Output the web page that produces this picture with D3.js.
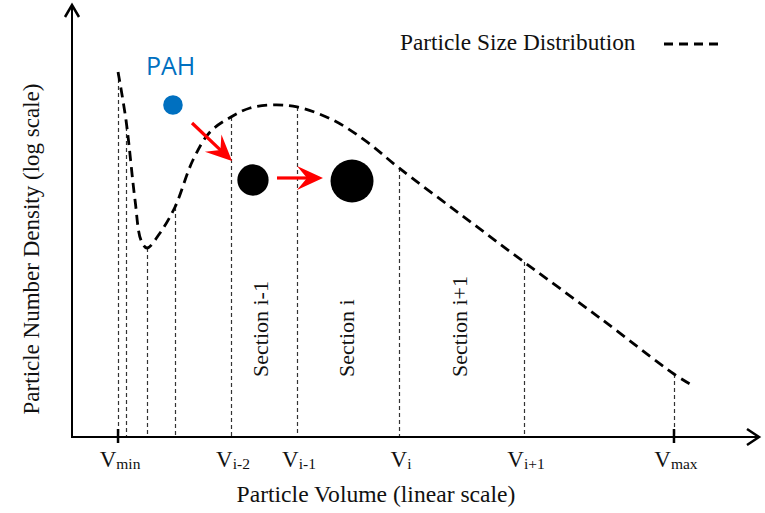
<!DOCTYPE html>
<html>
<head>
<meta charset="utf-8">
<script src="https://cdn.jsdelivr.net/npm/d3@7"></script>
<style>
  html, body { margin: 0; padding: 0; background: #fff; }
  svg { display: block; }
  text { font-family: "Liberation Serif", "Times New Roman", serif; fill: #111; }
</style>
</head>
<body>
<svg id="chart" width="765" height="513"></svg>
<script>
// particle size distribution (volume in arbitrary linear units, density on a log scale)
const curveVolumes = [6.72, 7.88, 9.2, 10.07, 10.95, 12.85, 15.04, 17.66, 20.15, 23.21, 25.99, 29.2, 32.85, 38.1, 43.07, 47.74, 56.64, 65.99, 77.08, 87.88, 90.22];
const curveDensities = [16800, 4670, 553, 190, 154, 230, 459, 1607, 3390, 5060, 6430, 6960, 6600, 4670, 2600, 1300, 381, 106, 23.8, 5.36, 4.11];

// section boundaries on the volume axis
const boundaryVolumes = [6.72, 7.88, 10.95, 15.04, 23.21, 32.85, 47.74, 65.99, 87.88];
const boundarySubs = ["min", "", "", "", "i-2", "i-1", "i", "i+1", "max"];
const tickedBoundaries = ["min", "max"];

// sections labelled between boundaries
const sectionNames = ["Section i-1", "Section i", "Section i+1"];
const sectionVolumes = [27.4, 40.0, 56.5];

// particles: PAH, then two soot particles
const particleNames = ["PAH", "", ""];
const particleVolumes = [14.74, 26.42, 40.88];
const particleDensities = [6960, 943, 918];
const particleDiameters = [1, 1.6, 2.2];

// growth arrows [from, to] as (volume, density)
const arrowStarts = [[17.52, 4306], [29.93, 995]];
const arrowEnds = [[23.36, 1565], [36.64, 995]];

const svg = d3.select("#chart");
const xScale = d3.scaleLinear().domain([0, 100]).range([72, 757]);
const yScale = d3.scaleLog().domain([1, 1e5]).range([437, 5]);
const rScale = d3.scaleLinear().domain([0, 2.2]).range([0, 21.5]);

const densityAt = (v) => {
  const i = d3.bisectLeft(curveVolumes, v);
  if (curveVolumes[i] === v) return curveDensities[i];
  const t = (v - curveVolumes[i - 1]) / (curveVolumes[i] - curveVolumes[i - 1]);
  return Math.pow(10, d3.interpolateNumber(Math.log10(curveDensities[i - 1]), Math.log10(curveDensities[i]))(t));
};

// boundary lines
svg
  .append("g")
  .selectAll("line")
  .data(boundaryVolumes)
  .enter()
  .append("line")
  .attr("x1", (d) => Math.round(xScale(d)) + 0.5)
  .attr("x2", (d) => Math.round(xScale(d)) + 0.5)
  .attr("y1", (d) => yScale(densityAt(d)))
  .attr("y2", yScale(1))
  .attr("stroke", "#333")
  .attr("stroke-width", 1.2)
  .attr("stroke-dasharray", "4,3");

// distribution curve
const line = d3
  .line()
  .x((d, i) => xScale(curveVolumes[i]))
  .y((d) => yScale(d))
  .curve(d3.curveCatmullRom.alpha(0.5));

svg
  .append("path")
  .attr("d", line(curveDensities))
  .attr("fill", "none")
  .attr("stroke", "#000")
  .attr("stroke-width", 2.8)
  .attr("stroke-dasharray", "10,6");

// axes
const x0 = xScale(0), y0 = yScale(1);
svg.append("line")
  .attr("x1", x0).attr("y1", y0 + 1).attr("x2", x0).attr("y2", 6)
  .attr("stroke", "#000").attr("stroke-width", 2);
svg.append("line")
  .attr("x1", x0 - 1).attr("y1", y0).attr("x2", 758).attr("y2", y0)
  .attr("stroke", "#000").attr("stroke-width", 2);
svg.append("path")
  .attr("d", `M${x0 - 7},17 L${x0},5 L${x0 + 7},17`)
  .attr("fill", "none").attr("stroke", "#000").attr("stroke-width", 2.5);
svg.append("path")
  .attr("d", `M747,${y0 - 8} L759,${y0} L747,${y0 + 8}`)
  .attr("fill", "none").attr("stroke", "#000").attr("stroke-width", 2.5);

// ticks at Vmin and Vmax
svg
  .append("g")
  .selectAll("line")
  .data(boundaryVolumes.filter((d, i) => tickedBoundaries.includes(boundarySubs[i])))
  .enter()
  .append("line")
  .attr("x1", (d) => xScale(d))
  .attr("x2", (d) => xScale(d))
  .attr("y1", y0 - 8)
  .attr("y2", y0 + 6)
  .attr("stroke", "#000")
  .attr("stroke-width", 2.5);

// tick labels V_sub
const labels = svg
  .append("g")
  .selectAll("text")
  .data(boundaryVolumes.filter((d, i) => boundarySubs[i] !== ""))
  .enter()
  .append("text")
  .attr("x", (d) => xScale(d) + 2)
  .attr("y", 467)
  .attr("text-anchor", "middle")
  .style("font-size", "23px");
labels.append("tspan").text("V");
labels
  .append("tspan")
  .attr("dy", 2)
  .style("font-size", "15.5px")
  .text((d) => boundarySubs[boundaryVolumes.indexOf(d)]);

// section labels
svg
  .append("g")
  .selectAll("text")
  .data(sectionNames)
  .enter()
  .append("text")
  .attr("transform", (d, i) => `translate(${xScale(sectionVolumes[i]) + 8},377) rotate(-90)`)
  .style("font-size", "22px")
  .text((d) => d);

// arrows
const arrowG = svg.append("g");
arrowStarts.forEach((s, i) => {
  const e = arrowEnds[i];
  const xs = xScale(s[0]), ys = yScale(s[1]);
  const xe = xScale(e[0]), ye = yScale(e[1]);
  const ang = Math.atan2(ye - ys, xe - xs);
  const shaft = Math.hypot(xe - xs, ye - ys) - 14;
  const g = arrowG
    .append("g")
    .attr("transform", `translate(${xs},${ys}) rotate(${(ang * 180) / Math.PI})`);
  g.append("line")
    .attr("x1", 0).attr("y1", 0).attr("x2", shaft).attr("y2", 0)
    .attr("stroke", "#ff0000").attr("stroke-width", 3.2);
  const L = shaft + 14;
  g.append("path")
    .attr("d", `M${L},0 L${L - 26},-12 L${L - 16},0 L${L - 26},12 Z`)
    .attr("fill", "#ff0000");
});

// particles
svg
  .append("g")
  .selectAll("circle")
  .data(particleVolumes)
  .enter()
  .append("circle")
  .attr("cx", (d) => xScale(d))
  .attr("cy", (d, i) => yScale(particleDensities[i]))
  .attr("r", (d, i) => rScale(particleDiameters[i]))
  .attr("fill", (d, i) => (i === 0 ? "#0070c0" : "#000"));

svg
  .append("text")
  .attr("x", xScale(particleVolumes[0]) - 27)
  .attr("y", 75)
  .style("font-family", "'Open Sans', sans-serif")
  .style("font-size", "25px")
  .style("fill", "#0070c0")
  .text(particleNames[0]);

// legend
svg.append("text")
  .attr("x", 400).attr("y", 50)
  .style("font-size", "23.3px")
  .text("Particle Size Distribution");
svg.append("line")
  .attr("x1", 664).attr("x2", 722).attr("y1", 44).attr("y2", 44)
  .attr("stroke", "#000").attr("stroke-width", 2.8).attr("stroke-dasharray", "9,6");

// axis titles
svg.append("text")
  .attr("x", 376).attr("y", 502)
  .attr("text-anchor", "middle")
  .style("font-size", "23.6px")
  .text("Particle Volume (linear scale)");
svg.append("text")
  .attr("transform", "translate(39,249) rotate(-90)")
  .attr("text-anchor", "middle")
  .style("font-size", "23px")
  .text("Particle Number Density (log scale)");
</script>
</body>
</html>
